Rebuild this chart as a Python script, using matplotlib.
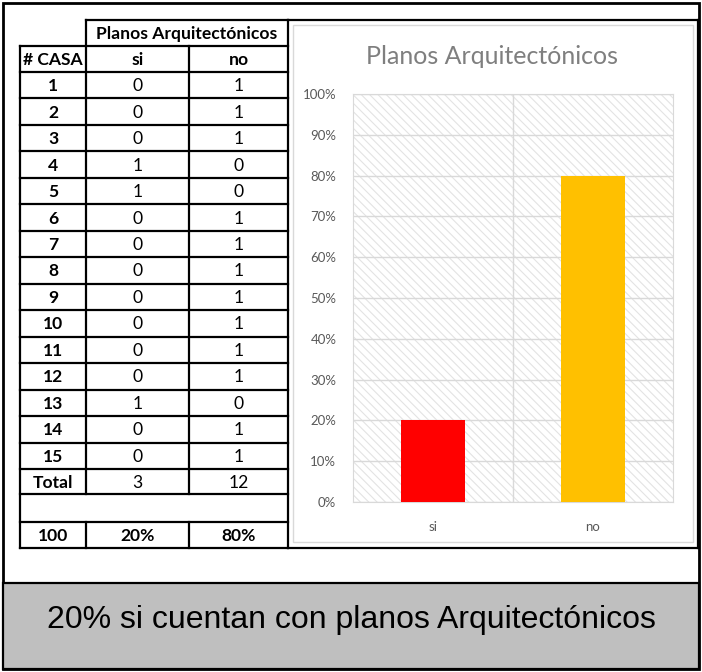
import numpy as np
import matplotlib.pyplot as plt
from matplotlib.patches import Rectangle
from matplotlib.ticker import PercentFormatter

# survey: does each house have architectural plans?
casas = list(range(1, 16))
si = [0, 0, 0, 1, 1, 0, 0, 0, 0, 0, 0, 0, 1, 0, 0]
no = [1, 1, 1, 0, 0, 1, 1, 1, 1, 1, 1, 1, 0, 1, 1]
categorias = ["si", "no"]
titulo = "Planos Arquitectónicos"
conclusion = "20% si cuentan con planos Arquitectónicos"

total_si = sum(si)
total_no = sum(no)
pct = [100 * total_si / len(casas), 100 * total_no / len(casas)]
colores = ["#FF0000", "#FFC000"]

W, H = 702, 672
plt.rcParams["hatch.linewidth"] = 0.8
fig = plt.figure(figsize=(W / 100, H / 100), dpi=100)

# background axes in pixel units (y grows downward)
bg = fig.add_axes([0, 0, 1, 1])
bg.set_xlim(0, W)
bg.set_ylim(H, 0)
bg.axis("off")

font = "Lato"
lw = 1.6

# outer frame and bottom conclusion box
bg.add_patch(Rectangle((3, 3), W - 6, H - 6, fill=False, ec="black", lw=2))
bg.add_patch(Rectangle((3, 583), W - 6, 86, fc="#BFBFBF", ec="black", lw=lw))
bg.text(W / 2, 620, conclusion, ha="center", va="center",
        fontsize=23, family="Liberation Sans", color="black")

# table grid
col_x = [20, 86, 189, 288]
row_y = [20, 46, 72]
row_h = (469 - 72) / 15
for i in range(1, 16):
    row_y.append(72 + i * row_h)
row_y += [494, 522, 548]

# horizontal lines
for k, y in enumerate(row_y):
    x0 = col_x[0] if k > 0 else col_x[1]
    bg.plot([x0, col_x[3]], [y, y], color="black", lw=lw)
# vertical lines
bg.plot([col_x[0]] * 2, [row_y[1], row_y[-1]], color="black", lw=lw)
bg.plot([col_x[1]] * 2, [row_y[0], row_y[-3]], color="black", lw=lw)
bg.plot([col_x[1]] * 2, [row_y[-2], row_y[-1]], color="black", lw=lw)
bg.plot([col_x[2]] * 2, [row_y[1], row_y[-3]], color="black", lw=lw)
bg.plot([col_x[2]] * 2, [row_y[-2], row_y[-1]], color="black", lw=lw)
bg.plot([col_x[3]] * 2, [row_y[0], row_y[-1]], color="black", lw=lw)
bg.plot([698] * 2, [row_y[0], row_y[-1]], color="black", lw=lw)
bg.plot([col_x[3], 698], [row_y[0], row_y[0]], color="black", lw=lw)
bg.plot([col_x[3], 698], [row_y[-1], row_y[-1]], color="black", lw=lw)

cx = [(col_x[i] + col_x[i + 1]) / 2 for i in range(3)]
fs = 12.6

def cell(x, y, s, bold=False):
    bg.text(x, y + 1, s, ha="center", va="center", fontsize=fs, family=font,
            fontweight="bold" if bold else "normal", color="black")

cell((col_x[1] + col_x[3]) / 2, (row_y[0] + row_y[1]) / 2, titulo, True)
hy = (row_y[1] + row_y[2]) / 2
cell(cx[0], hy, "# CASA", True)
cell(cx[1], hy, "si", True)
cell(cx[2], hy, "no", True)
for i, c in enumerate(casas):
    y = (row_y[2 + i] + row_y[3 + i]) / 2
    cell(cx[0], y, str(c), True)
    cell(cx[1], y, str(si[i]))
    cell(cx[2], y, str(no[i]))
ty = (row_y[-4] + row_y[-3]) / 2
cell(cx[0], ty, "Total", True)
cell(cx[1], ty, str(total_si))
cell(cx[2], ty, str(total_no))
py = (row_y[-2] + row_y[-1]) / 2
cell(cx[0], py, "100", True)
cell(cx[1], py, f"{pct[0]:.0f}%", True)
cell(cx[2], py, f"{pct[1]:.0f}%", True)

# chart frame
bg.add_patch(Rectangle((293, 25), 400, 517, fill=False, ec="#D9D9D9", lw=1))
bg.text(492, 57, titulo, ha="center", va="center", fontsize=18,
        family=font, color="#7F7F7F")

# bar chart
left, right, top, bottom = 353, 673, 94, 502
ax = fig.add_axes([left / W, 1 - bottom / H, (right - left) / W, (bottom - top) / H])
ax.add_patch(Rectangle((0, 0), 1, 1, transform=ax.transAxes, fc="white",
                       ec="#E3E3E3", hatch="\\\\\\\\", lw=0, zorder=0))
x = np.arange(len(categorias))
ax.bar(x, pct, width=0.4, color=colores, zorder=3)
ax.set_xlim(-0.5, 1.5)
ax.set_ylim(0, 100)
ax.set_yticks(np.arange(0, 101, 10))
ax.yaxis.set_major_formatter(PercentFormatter(decimals=0))
ax.set_xticks(x)
ax.set_xticklabels(categorias)
ax.set_xticks([0.5], minor=True)
ax.grid(axis="y", color="#D9D9D9", lw=1, zorder=1)
ax.grid(axis="x", which="minor", color="#D9D9D9", lw=1, zorder=1)
for s in ax.spines.values():
    s.set_color("#D9D9D9")
ax.tick_params(length=0, which="both", labelsize=9.5, colors="#595959", pad=12)
ax.tick_params(axis="x", pad=14)
for t in ax.get_xticklabels() + ax.get_yticklabels():
    t.set_family(font)

fig.savefig("out.png", dpi=100)
